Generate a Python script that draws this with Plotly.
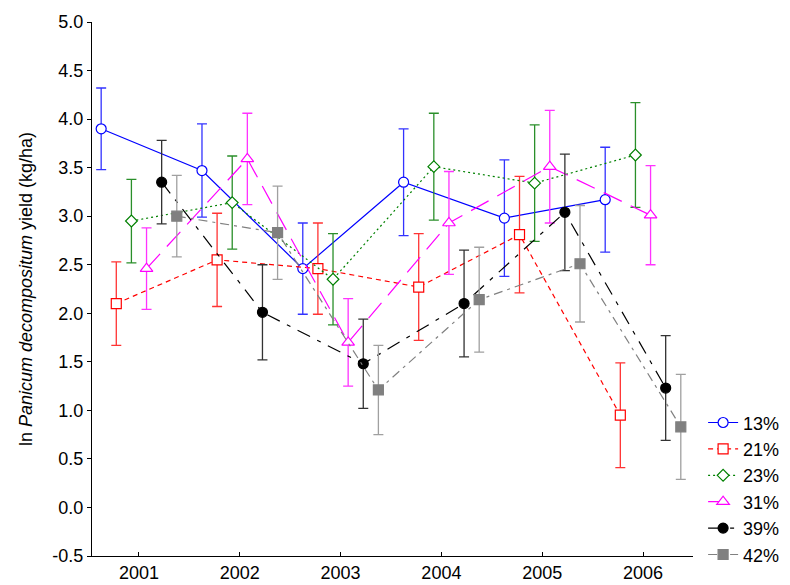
import plotly.graph_objects as go

years = [2001, 2002, 2003, 2004, 2005, 2006]
series_names = ["13%", "21%", "23%", "31%", "39%", "42%"]

y13 = [3.90, 3.47, 2.46, 3.35, 2.98, 3.17]
e13 = [0.42, 0.48, 0.47, 0.55, 0.60, 0.54]
y21 = [2.10, 2.55, 2.46, 2.27, 2.81, 0.95]
e21 = [0.43, 0.48, 0.47, 0.55, 0.60, 0.54]
y23 = [2.95, 3.14, 2.35, 3.51, 3.34, 3.63]
e23 = [0.43, 0.48, 0.47, 0.55, 0.60, 0.54]
y31 = [2.46, 3.59, 1.70, 2.93, 3.51, 3.01]
e31 = [0.42, 0.47, 0.45, 0.53, 0.58, 0.51]
y39 = [3.35, 2.01, 1.48, 2.10, 3.04, 1.23]
e39 = [0.43, 0.49, 0.46, 0.55, 0.60, 0.54]
y42 = [3.00, 2.83, 1.21, 2.14, 2.51, 0.83]
e42 = [0.42, 0.48, 0.46, 0.54, 0.60, 0.54]

y_ticks = [-0.5, 0.0, 0.5, 1.0, 1.5, 2.0, 2.5, 3.0, 3.5, 4.0, 4.5, 5.0]
y_tick_labels = ["-0.5", "0.0", "0.5", "1.0", "1.5", "2.0", "2.5", "3.0", "3.5", "4.0", "4.5", "5.0"]

values = [y13, y21, y23, y31, y39, y42]
errors = [e13, e21, e23, e31, e39, e42]

offsets = [-0.375, -0.225, -0.075, 0.075, 0.225, 0.375]
styles = [
    dict(color="#0000FF", err="#3333FF", dash="solid", symbol="circle", fill="white", size=10),
    dict(color="#FF0000", err="#FF3333", dash="5px,4px", symbol="square", fill="white", size=10),
    dict(color="#008000", err="#2A8F2A", dash="2px,3px", symbol="diamond", fill="white", size=9),
    dict(color="#FF00FF", err="#FF33FF", dash="20px,10px", symbol="triangle-up", fill="white", size=11),
    dict(color="#000000", err="#333333", dash="14px,8px,4px,8px", symbol="circle", fill="#000000", size=10),
    dict(color="#808080", err="#A0A0A0", dash="9px,5px,3px,5px", symbol="square", fill="#808080", size=10),
]

fig = go.Figure()
for name, ys, es, off, st in zip(series_names, values, errors, offsets, styles):
    xs = [yr + off for yr in years]
    fig.add_trace(go.Scatter(
        x=xs, y=ys, name=name, mode="lines+markers",
        line=dict(color=st["color"], width=1.2, dash=st["dash"]),
        marker=dict(symbol=st["symbol"], size=st["size"], color=st["fill"],
                    line=dict(color=st["color"], width=1.2)),
        error_y=dict(type="data", array=es, visible=True, color=st["err"],
                     thickness=1.3, width=5),
    ))

fig.update_layout(
    width=790, height=585,
    margin=dict(l=92, r=97, t=22, b=29, autoexpand=False),
    paper_bgcolor="white", plot_bgcolor="white",
    font=dict(family="Liberation Sans, Arial, sans-serif", color="black", size=18),
    showlegend=True,
    legend=dict(xref="container", yref="container", x=0.89, xanchor="left",
                y=0.02, yanchor="bottom",
                font=dict(size=18), tracegroupgap=0, itemwidth=30,
                bgcolor="rgba(0,0,0,0)"),
)
fig.update_xaxes(
    range=[2000.534, 2006.496], tickvals=years, ticktext=[str(y) for y in years],
    showgrid=False, zeroline=False, showline=True, linecolor="black", linewidth=1,
    ticks="inside", ticklen=4, tickcolor="black", tickfont=dict(size=18),
)
fig.update_yaxes(
    range=[-0.5, 5.0], tickvals=y_ticks, ticktext=y_tick_labels,
    showgrid=False, zeroline=False, showline=True,
    linecolor="black", linewidth=1, ticks="outside", ticklen=4, tickcolor="black",
    tickfont=dict(size=18),
    title=dict(text="ln <i>Panicum decompositum</i> yield (kg/ha)", font=dict(size=18), standoff=15),
)

fig.write_html("out.html")
